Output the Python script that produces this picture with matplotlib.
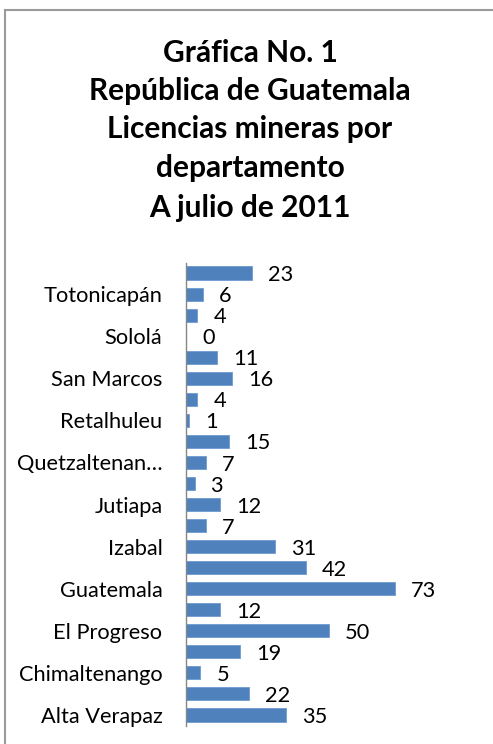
import matplotlib
matplotlib.use("Agg")
import matplotlib.pyplot as plt
from matplotlib.patches import Rectangle

plt.rcParams['font.family'] = ['Lato', 'DejaVu Sans']

departments = ["Alta Verapaz", "Baja Verapaz", "Chimaltenango", "Chiquimula",
               "El Progreso", "Escuintla", "Guatemala", "Huehuetenango",
               "Izabal", "Jalapa", "Jutiapa", "Petén", "Quetzaltenango",
               "Quiché", "Retalhuleu", "Sacatepéquez", "San Marcos",
               "Santa Rosa", "Sololá", "Suchitepéquez", "Totonicapán", "Zacapa"]
licencias = [35, 22, 5, 19, 50, 12, 73, 42, 31, 7, 12, 3, 7, 15, 1, 4, 16,
             11, 0, 4, 6, 23]
tick_labels = ["Alta Verapaz", "Chimaltenango", "El Progreso", "Guatemala",
               "Izabal", "Jutiapa", "Quetzaltenan…", "Retalhuleu",
               "San Marcos", "Sololá", "Totonicapán"]
title_lines = ["Gráfica No. 1", "República de Guatemala",
               "Licencias mineras por", "departamento", "A julio de 2011"]

W, H = 493, 744
fig = plt.figure(figsize=(W / 100, H / 100), dpi=100)

# outer frame
fig.patches.append(Rectangle((5 / W, -0.1), 1.2, 1 - 10 / H + 0.1,
                             transform=fig.transFigure, fill=False,
                             edgecolor="#9a9a9a", linewidth=1.5))

ax = fig.add_axes([186 / W, (H - 725.5) / H, 229 / W, (725.5 - 262.5) / H])
y = list(range(len(departments)))
ax.barh(y, licencias, height=0.62, color="#4F81BD",
        edgecolor="#6f9bd0", linewidth=0.6)
ax.set_xlim(0, 80)
ax.set_ylim(-0.5, len(departments) - 0.5)

for yi, v in zip(y, licencias):
    ax.annotate(str(v), xy=(v, yi), xytext=(11.5, -1.5),
                textcoords="offset points", ha="left", va="center",
                fontsize=15.7, color="black")

ax.set_yticks(y[::2])
ax.set_yticklabels(tick_labels, fontsize=15.7)
ax.tick_params(axis="y", length=0, pad=17)
ax.set_xticks([])
for s in ["top", "right", "bottom"]:
    ax.spines[s].set_visible(False)
ax.spines["left"].set_color("#868686")
ax.spines["left"].set_linewidth(1.0)

baselines = [62, 100, 138, 177, 217]
for line, b in zip(title_lines, baselines):
    fig.text(250 / W, 1 - b / H, line, ha="center", va="baseline",
             fontsize=21.5, fontweight="bold")

fig.savefig("out.png", dpi=100)
